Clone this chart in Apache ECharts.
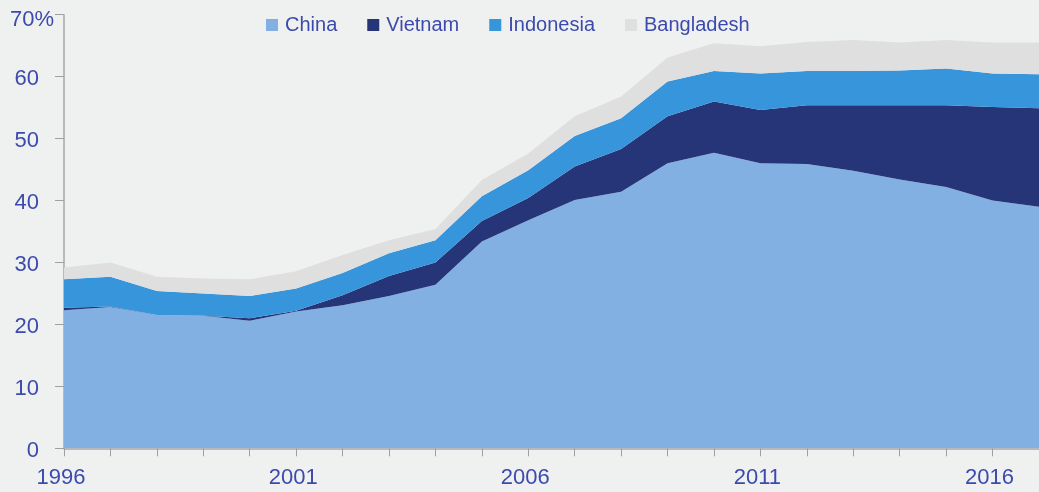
<!DOCTYPE html>
<html>
<head>
<meta charset="utf-8">
<script src="https://cdn.jsdelivr.net/npm/echarts@6/dist/echarts.min.js"></script>
<style>
html,body{margin:0;padding:0;background:#eff0f0;}
#chart{width:1039px;height:492px;}
</style>
</head>
<body>
<div id="chart"></div>
<script>
var years = ['1996','1997','1998','1999','2000','2001','2002','2003','2004','2005','2006','2007','2008','2009','2010','2011','2012','2013','2014','2015','2016','2017'];
var china      = [22.3, 22.8, 21.5, 21.4, 20.6, 22.1, 23.1, 24.6, 26.4, 33.4, 36.8, 40.1, 41.4, 46.0, 47.7, 46.0, 45.9, 44.8, 43.4, 42.2, 40.0, 39.0];
var vietnam    = [0.4, 0.1, 0.0, 0.0, 0.4, 0.1, 1.6, 3.2, 3.6, 3.3, 3.6, 5.4, 6.9, 7.6, 8.3, 8.6, 9.5, 10.6, 12.0, 13.2, 15.1, 15.9];
var indonesia  = [4.6, 4.8, 3.9, 3.6, 3.6, 3.6, 3.6, 3.7, 3.6, 4.0, 4.5, 4.9, 5.0, 5.6, 4.9, 5.9, 5.5, 5.5, 5.6, 5.9, 5.4, 5.5];
var bangladesh = [1.9, 2.3, 2.3, 2.4, 2.7, 2.8, 2.9, 2.1, 1.8, 2.6, 2.7, 3.2, 3.5, 3.9, 4.5, 4.4, 4.7, 5.0, 4.5, 4.6, 5.0, 5.1];
var yTicks = [0, 10, 20, 30, 40, 50, 60, 70];

var textColor = '#3d4aad';
var font = 'Liberation Sans, Arial, sans-serif';
var names = ['China','Vietnam','Indonesia','Bangladesh'];
var colors = ['#82b0e2','#263478','#3795db','#dfdfe0'];
var datas = [china, vietnam, indonesia, bangladesh];

var chart = echarts.init(document.getElementById('chart'), null, {renderer:'canvas'});
var series = names.map(function(n, i){
  return {
    name: n, type: 'line', stack: 'total', data: datas[i],
    symbol: 'none', smooth: false,
    lineStyle: {width: 0, color: colors[i]},
    itemStyle: {color: colors[i]},
    areaStyle: {color: colors[i], opacity: 1}
  };
});
chart.setOption({
  backgroundColor: '#eff0f0',
  animation: false,
  color: colors,
  legend: {
    data: names, left: 266, top: 15, padding: 0,
    icon: 'rect', itemWidth: 12, itemHeight: 12, itemGap: 30,
    textStyle: {fontSize: 20, color: textColor, fontFamily: font, padding: [0,0,0,2]}
  },
  grid: {left: 64, right: -5, top: 14.7, bottom: 43.7, containLabel: false},
  xAxis: {
    type: 'category', data: years, boundaryGap: false,
    axisLine: {lineStyle: {color: '#a8a8a8', width: 1.5}},
    axisTick: {interval: 0, length: 8, lineStyle: {color: '#a0a0a0'}},
    axisLabel: {interval: 4, margin: 18.5, fontSize: 22, color: textColor, fontFamily: font, padding: [0,6,0,0]},
    splitLine: {show: false}
  },
  yAxis: {
    type: 'value', min: yTicks[0], max: yTicks[yTicks.length-1], interval: 10,
    axisLine: {show: true, lineStyle: {color: '#a8a8a8', width: 1.5}},
    axisTick: {show: true, length: 9, lineStyle: {color: '#a0a0a0'}},
    splitLine: {show: false},
    axisLabel: {
      margin: 25, fontSize: 22, color: textColor, fontFamily: font, padding: [5,0,0,0],
      formatter: function(v){ return v === 70 ? '{n|70}{u|%}' : String(v); },
      rich: {
        n: {fontSize: 22, color: textColor, fontFamily: font, padding: [5,0,0,0]},
        u: {fontSize: 22, color: textColor, fontFamily: font, padding: [5,-15,0,0]}
      }
    }
  },
  series: series
});
</script>
</body>
</html>
